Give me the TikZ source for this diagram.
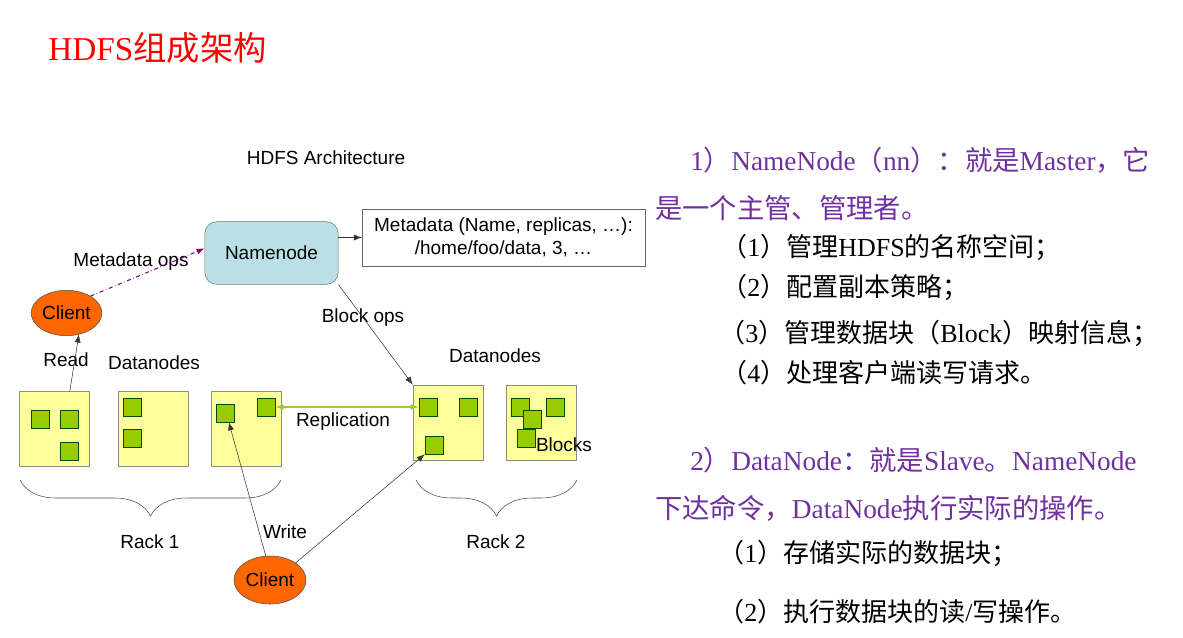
\documentclass[tikz,border=0pt]{standalone}
\usepackage{fontspec}
\setmainfont{Liberation Serif}
\newfontfamily\cjk{Noto Sans CJK SC}
\newfontfamily\arialf{Liberation Sans}
\usetikzlibrary{arrows.meta,shapes.geometric,decorations.pathreplacing}
\definecolor{nnblue}{HTML}{B9E0E6}
\definecolor{clorange}{HTML}{FF6600}
\definecolor{rackyellow}{HTML}{FFFF99}
\definecolor{blkgreen}{HTML}{99CC00}
\definecolor{repgreen}{HTML}{99CC33}
\definecolor{opspurple}{HTML}{800080}
\definecolor{notepurple}{HTML}{7030A0}
\newcommand\zhs[1]{{\cjk #1}}
\begin{document}
\begin{tikzpicture} [
            x=0.75pt, y=-0.75pt,
            lbl/.style={font=\arialf\fontsize{14.25}{17}\selectfont,inner sep=0pt},
            namebox/.style={lbl,draw=black!55,fill=nnblue,rounded corners=9pt,minimum width=100pt,minimum height=47pt},
            metabox/.style={lbl,draw=black!60,fill=white,minimum width=212pt,minimum height=43pt,align=center},
            client/.style={lbl,ellipse,draw=black!70,fill=clorange,minimum width=53pt,minimum height=34pt},
            rack/.style={draw=black!45,fill=rackyellow,minimum width=52.5pt,minimum height=56.5pt,inner sep=0pt},
            blk/.style={draw=black!70!green,fill=blkgreen,minimum size=13.5pt,inner sep=0pt},
            link/.style={draw=black!80,-{Latex[length=6pt,width=4.5pt]}},
            mdops/.style={draw=opspurple,dash dot,thick,-{Latex[length=6pt,width=4.5pt]}},
            repl/.style={draw=repgreen,line width=1pt,{Latex[length=6pt,width=4.5pt]}-{Latex[length=6pt,width=4.5pt]}},
            rackbrace/.style={draw=black!70,decorate,decoration={brace,mirror,amplitude=27pt}},
            note/.style={anchor=west,inner sep=0pt,font=\fontsize{19.5}{22}\selectfont},
            pnote/.style={note,text=notepurple,font=\fontsize{20.5}{24}\selectfont},
        ]
        \useasboundingbox (0,0) rectangle (1183,637);
        \node[anchor=west,inner sep=0pt,text=red,font=\fontsize{25}{30}\selectfont] (title) at (48,48) {HDFS\zhs{组成架构}};
        \node[lbl] (arch) at (326,158) {HDFS Architecture};
        \node[namebox] (nn) at (271.5,253) {Namenode};
        \node[metabox] (md) at (503.5,237.5) {Metadata (Name, replicas, …):\\/home/foo/data, 3, …};
        \node[client] (cl1) at (66.5,313) {Client};
        \node[client,minimum width=54pt,minimum height=36pt] (cl2) at (270,580) {Client};
        \foreach \pos/\name in {
                {(54.5,429)/b1}, {(153,429)/b2}, {(246,429)/b3}, {(448,422.5)/b4}, {(541,422.5)/b5}}
            \node[rack] (\name) at \pos {};
        \foreach \pos/\name in {
                {(40,419)/s11}, {(69,419)/s12}, {(69,451)/s13}, {(132.5,407)/s21}, {(132.5,438)/s22},
                {(225.5,413)/s31}, {(266,407)/s32}, {(428,407)/s41}, {(468,407)/s42}, {(434,445)/s43},
                {(520.5,407)/s51}, {(555.5,407)/s52}, {(532,419.5)/s53}, {(526.5,438.5)/s54}}
            \node[blk] (\name) at \pos {};
        \node[lbl] (mdlbl) at (131,262) {Metadata ops};
        \node[lbl] (readlbl) at (66,360) {Read};
        \node[lbl] (dn1) at (154,363) {Datanodes};
        \node[lbl] (dn2) at (495,356) {Datanodes};
        \node[lbl] (bolbl) at (363,318) {Block ops};
        \node[lbl] (replbl) at (343,422) {Replication};
        \node[lbl] (blklbl) at (564,445) {Blocks};
        \node[lbl] (wrlbl) at (285,532) {Write};
        \node[lbl] (rack1) at (150,542) {Rack 1};
        \node[lbl] (rack2) at (496,542) {Rack 2};
        \draw[rackbrace] (20,480) -- (281,480);
        \draw[rackbrace] (416,480) -- (577,480);
        \draw[link] (nn.east |- md.west) -- (md.west);
        \draw[mdops] (cl1.35) -- (nn.176);
        \draw[link] (b1.68) -- (cl1.-60);
        \draw[link] (nn.south east) -- (b4.north west);
        \draw[repl] (s32.east) -- (s41.west);
        \draw[link] (cl2.100) -- (s31.-70);
        \draw[link] (cl2.north east) -- (s43.south west);
        \node[pnote] (nnhead) at (690,160) {1\zhs{）}NameNode\zhs{（}nn\zhs{）：就是}Master\zhs{，它}};
        \node[pnote] (nnhead2) at (655,208) {\zhs{是一个主管、管理者。}};
        \node[note] (nn1) at (721,247) {\zhs{（}1\zhs{）管理}HDFS\zhs{的名称空间；}};
        \node[note] (nn2) at (721,287) {\zhs{（}2\zhs{）配置副本策略；}};
        \node[note] (nn3) at (719,333) {\zhs{（}3\zhs{）管理数据块（}Block\zhs{）映射信息；}};
        \node[note] (nn4) at (721,373) {\zhs{（}4\zhs{）处理客户端读写请求。}};
        \node[pnote] (dnhead) at (690,460) {2\zhs{）}DataNode\zhs{：就是}Slave\zhs{。}NameNode};
        \node[pnote] (dnhead2) at (655,508) {\zhs{下达命令，}DataNode\zhs{执行实际的操作。}};
        \node[note] (dn1t) at (718,553) {\zhs{（}1\zhs{）存储实际的数据块；}};
        \node[note] (dn2t) at (718,612) {\zhs{（}2\zhs{）执行数据块的读}/\zhs{写操作。}};
    \end{tikzpicture}
\end{document}
